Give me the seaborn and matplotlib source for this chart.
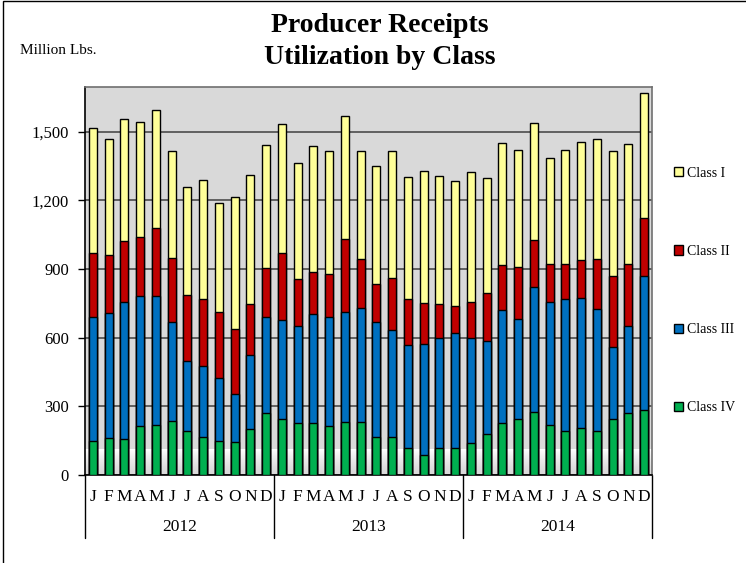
import numpy as np
import pandas as pd
import matplotlib
matplotlib.use("Agg")
import matplotlib.pyplot as plt
import matplotlib.transforms as mtransforms
from matplotlib.patches import Patch, Rectangle
import seaborn as sns

# ── DATA (million lbs) ─────────────────────────────────────────────────
years = ['2012', '2013', '2014']
months = ['J', 'F', 'M', 'A', 'M', 'J', 'J', 'A', 'S', 'O', 'N', 'D']

class_iv = [149, 160, 157, 213, 218, 236, 194, 166, 149, 144, 201, 271,
            245, 229, 227, 216, 232, 232, 165, 165, 117, 87, 118, 118,
            138, 178, 226, 243, 274, 217, 192, 205, 192, 243, 271, 283]
class_iii = [540, 548, 600, 570, 563, 431, 303, 309, 273, 208, 322, 418,
             432, 421, 475, 473, 479, 496, 505, 470, 449, 485, 482, 501,
             462, 407, 493, 440, 547, 540, 575, 567, 532, 315, 379, 588]
class_ii = [281, 253, 264, 258, 300, 281, 289, 295, 289, 287, 224, 214,
            291, 205, 183, 188, 319, 214, 164, 226, 201, 178, 147, 119,
            154, 209, 200, 224, 204, 165, 155, 166, 218, 311, 272, 252]
class_i = [547, 506, 533, 501, 512, 466, 472, 519, 479, 574, 562, 539,
           564, 510, 551, 539, 538, 472, 517, 556, 533, 577, 559, 546,
           568, 502, 530, 511, 514, 464, 496, 517, 524, 547, 523, 544]

classes = ['Class I', 'Class II', 'Class III', 'Class IV']
colors = {'Class I': '#FFFF99', 'Class II': '#C00000',
          'Class III': '#0070C0', 'Class IV': '#00B050'}
yticks = [0, 300, 600, 900, 1200, 1500]

df = pd.DataFrame({'idx': range(36), 'Class IV': class_iv, 'Class III': class_iii,
                   'Class II': class_ii, 'Class I': class_i})
# cumulative heights, bottom-up: IV, III, II, I
df['cum_IV'] = df['Class IV']
df['cum_III'] = df['cum_IV'] + df['Class III']
df['cum_II'] = df['cum_III'] + df['Class II']
df['cum_I'] = df['cum_II'] + df['Class I']

# ── STYLE ─────────────────────────────────────────────────────────────
sns.set_style('white')
plt.rcParams['font.family'] = ['Liberation Serif', 'DejaVu Serif']
plt.rcParams['text.color'] = 'black'
plt.rcParams['xtick.color'] = 'black'
plt.rcParams['ytick.color'] = 'black'

fig = plt.figure(figsize=(7.46, 5.63), dpi=100)
ax = fig.add_axes([85 / 746, 88 / 563, 567 / 746, 388 / 563])
ax.set_facecolor('#D9D9D9')

# overlay cumulative stacks from tallest to shortest
for col, cls in [('cum_I', 'Class I'), ('cum_II', 'Class II'),
                 ('cum_III', 'Class III'), ('cum_IV', 'Class IV')]:
    sns.barplot(data=df, x='idx', y=col, color=colors[cls], saturation=1,
                width=0.52, edgecolor='black', linewidth=1.0, ax=ax, zorder=3)

# fade to white near the floor of the plot area
grad = np.linspace(1, 0, 128).reshape(-1, 1) ** 1.5
ax.imshow(grad, extent=(-0.5, 35.5, 0, 110), aspect='auto',
          cmap=matplotlib.colors.LinearSegmentedColormap.from_list('g', ['#D9D9D9', '#FFFFFF']),
          zorder=0.1)
ax.set_xlim(-0.5, 35.5)
ax.set_ylim(0, 1695)

ax.set_yticks(yticks)
ax.set_yticklabels([f'{v:,}' for v in yticks], fontsize=12)
ax.yaxis.grid(True, color='#404040', linewidth=1.1)
ax.set_axisbelow(True)
ax.tick_params(axis='y', direction='out', length=5, width=1, color='black', left=True, pad=6.5)

ax.set_xticks(range(36))
ax.set_xticklabels(months * 3, fontsize=12.5)
ax.tick_params(axis='x', length=0, pad=10)
ax.set_xlabel('')
ax.set_ylabel('')

for side in ['left', 'bottom']:
    ax.spines[side].set_color('black')
    ax.spines[side].set_linewidth(1.2)
for side in ['top', 'right']:
    ax.spines[side].set_color('#707070')
    ax.spines[side].set_linewidth(1.2)

# year separators and labels under the month letters
trans = mtransforms.blended_transform_factory(ax.transData, ax.transAxes)
for xb in [-0.5, 11.5, 23.5, 35.5]:
    ax.plot([xb, xb], [0, -0.163], transform=trans, color='black',
            linewidth=1, clip_on=False)
for i, yr in enumerate(years):
    ax.text(i * 12 + 5.5, -0.135, yr, transform=trans, ha='center',
            va='center', fontsize=12.5)

# legend, spread down the right side
handles = [Patch(facecolor=colors[c], edgecolor='black', linewidth=1, label=c)
           for c in classes]
leg = fig.legend(handles=handles, loc='upper left', bbox_to_anchor=(668 / 746, 1 - 161 / 563),
                 frameon=False, fontsize=10, handlelength=0.65, handleheight=0.65,
                 handletextpad=0.35, labelspacing=4.7, borderaxespad=0)

# titles
fig.text(380 / 746, 1 - 26 / 563, 'Producer Receipts', ha='center', va='center',
         fontsize=20, fontweight='bold')
fig.text(380 / 746, 1 - 57 / 563, 'Utilization by Class', ha='center', va='center',
         fontsize=20, fontweight='bold')
fig.text(20 / 746, 1 - 50 / 563, 'Million Lbs.', ha='left', va='center', fontsize=11)

# thin frame around the chart area
fig.add_artist(Rectangle((3.5 / 746, -0.1), 1.2, 1.1 - 1.5 / 563,
                         transform=fig.transFigure, fill=False,
                         edgecolor='black', linewidth=1))

fig.savefig('out.png', dpi=100)
